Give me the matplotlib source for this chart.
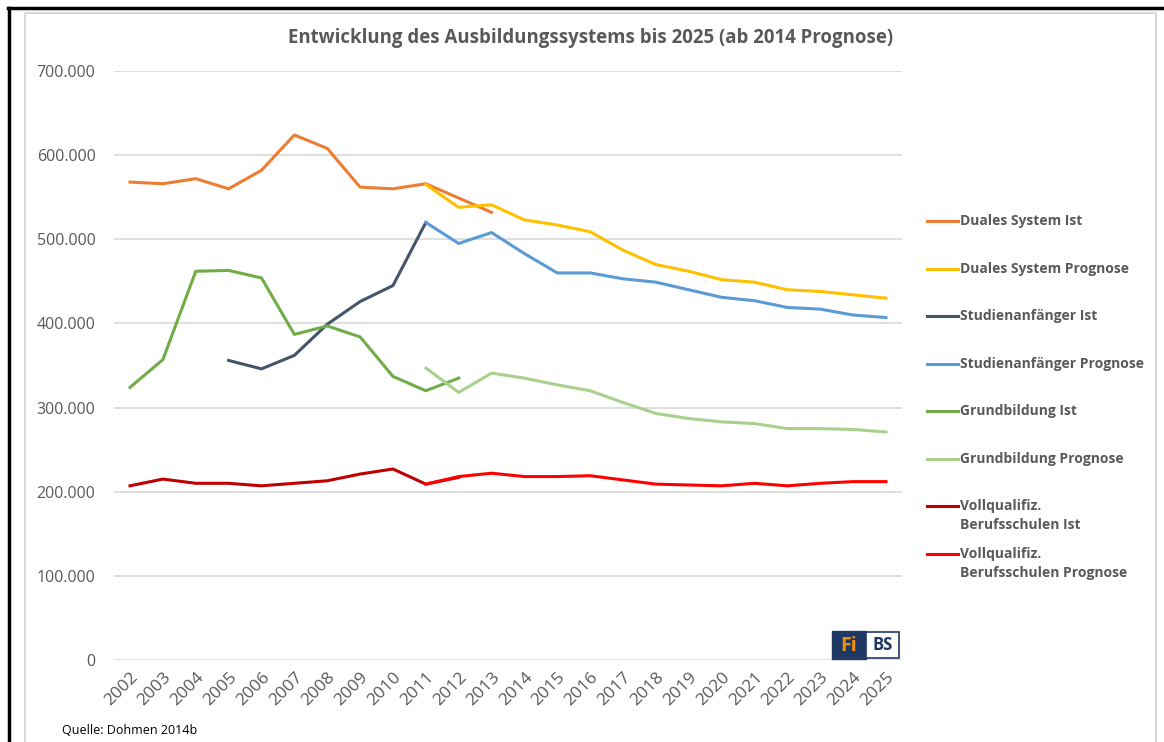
import matplotlib
matplotlib.use("Agg")
import matplotlib.pyplot as plt
from matplotlib.patches import Rectangle
from matplotlib.lines import Line2D
import numpy as np

plt.rcParams['font.family'] = ['Open Sans', 'DejaVu Sans']

# data
years_all = list(range(2002, 2026))

duales_ist_years = list(range(2002, 2014))
duales_ist = [568000, 566000, 572000, 560000, 582000, 624000, 608000, 562000, 560000, 566000, 549000, 532000]

duales_prog_years = list(range(2011, 2026))
duales_prog = [565000, 538000, 541000, 523000, 517000, 509000, 487000, 470000, 462000, 452000, 449000, 440000, 438000, 434000, 430000]

stud_ist_years = list(range(2005, 2012))
stud_ist = [356000, 346000, 362000, 399000, 426000, 445000, 520000]

stud_prog_years = list(range(2011, 2026))
stud_prog = [520000, 495000, 508000, 483000, 460000, 460000, 453000, 449000, 440000, 431000, 427000, 419000, 417000, 410000, 407000]

grund_ist_years = list(range(2002, 2013))
grund_ist = [324000, 357000, 462000, 463000, 454000, 387000, 397000, 384000, 337000, 320000, 335000]

grund_prog_years = list(range(2011, 2026))
grund_prog = [347000, 318000, 341000, 335000, 327000, 320000, 306000, 293000, 287000, 283000, 281000, 275000, 275000, 274000, 271000]

voll_ist_years = list(range(2002, 2013))
voll_ist = [207000, 215000, 210000, 210000, 207000, 210000, 213000, 221000, 227000, 209000, 217000]

voll_prog_years = list(range(2011, 2026))
voll_prog = [209000, 218000, 222000, 218000, 218000, 219000, 214000, 209000, 208000, 207000, 210000, 207000, 210000, 212000, 212000]

series = [
    (duales_ist_years, duales_ist, "Duales System Ist", "#ed7d31"),
    (duales_prog_years, duales_prog, "Duales System Prognose", "#ffc000"),
    (stud_ist_years, stud_ist, "Studienanfänger Ist", "#44546a"),
    (stud_prog_years, stud_prog, "Studienanfänger Prognose", "#5b9bd5"),
    (grund_ist_years, grund_ist, "Grundbildung Ist", "#70ad47"),
    (grund_prog_years, grund_prog, "Grundbildung Prognose", "#a9d18e"),
    (voll_ist_years, voll_ist, "Vollqualifiz.\nBerufsschulen Ist", "#c00000"),
    (voll_prog_years, voll_prog, "Vollqualifiz.\nBerufsschulen Prognose", "#ff0000"),
]

yticks = [0, 100000, 200000, 300000, 400000, 500000, 600000, 700000]
ytick_labels = ["0", "100.000", "200.000", "300.000", "400.000", "500.000", "600.000", "700.000"]

W, H = 1164, 742
fig = plt.figure(figsize=(W / 100, H / 100), dpi=100)
fig.patch.set_facecolor("white")

ax = fig.add_axes([113.6 / W, 1 - 660 / H, (902.4 - 113.6) / W, (660 - 71) / H])

for xs, ys, label, col in series:
    ax.plot(xs, ys, color=col, lw=2.2, solid_joinstyle="round")

ax.set_xlim(2001.5, 2025.5)
ax.set_ylim(0, 700000)
ax.set_yticks(yticks)
ax.set_yticklabels(ytick_labels)
ax.set_xticks(years_all)
ax.set_xticklabels([str(y) for y in years_all], rotation=45, ha="right", rotation_mode="anchor")
ax.grid(axis="y", color="#d9d9d9", lw=1.2)
ax.set_axisbelow(True)
for s in ax.spines.values():
    s.set_visible(False)
ax.tick_params(length=0, colors="#595959")
ax.tick_params(axis="y", pad=13, labelsize=11.5)
ax.tick_params(axis="x", pad=7, labelsize=12.5)

fig.text(591 / W, 1 - 38 / H, "Entwicklung des Ausbildungssystems bis 2025 (ab 2014 Prognose)",
         ha="center", va="center", fontsize=13.4, fontweight="bold", color="#595959")

# legend, drawn by hand so the spacing follows the reference
leg_y = [221, 269, 316, 364, 411, 459, 506, 554]
for (xs, ys, label, col), yy in zip(series, leg_y):
    fig.add_artist(Line2D([927 / W, 958 / W], [1 - yy / H, 1 - yy / H], transform=fig.transFigure,
                          color=col, lw=2.2))
    for k, part in enumerate(label.split("\n")):
        fig.text(960 / W, 1 - (yy + 19 * k) / H, part, ha="left", va="center", fontsize=10,
                 fontweight="bold", color="#595959")

fig.text(62 / W, 1 - 731 / H, "Quelle: Dohmen 2014b", ha="left", va="center", fontsize=9, color="black")

# logo
fig.add_artist(Rectangle((832 / W, 1 - 659 / H), 34 / W, 28 / H, transform=fig.transFigure,
                         facecolor="#1f3864", edgecolor="#1f3864"))
fig.add_artist(Rectangle((866 / W, 1 - 658 / H), 33 / W, 26 / H, transform=fig.transFigure,
                         facecolor="white", edgecolor="#1f3864", lw=1.2))
fig.text(849 / W, 1 - 646 / H, "Fi", ha="center", va="center", fontsize=14, fontweight="bold", color="#f39200")
fig.text(883 / W, 1 - 645 / H, "BS", ha="center", va="center", fontsize=12, fontweight="bold", color="#1f3864")

# frame
fig.add_artist(Rectangle((25 / W, -0.1), (1156 - 25) / W, 1.1 - 12.5 / H, transform=fig.transFigure,
                         facecolor="none", edgecolor="#d9d9d9", lw=1.5))
fig.add_artist(Line2D([9 / W, 9 / W], [0, 1 - 8 / H], transform=fig.transFigure, color="black", lw=2.5))
fig.add_artist(Line2D([8 / W, 1], [1 - 8 / H, 1 - 8 / H], transform=fig.transFigure, color="black", lw=2.5))

fig.savefig("out.png", dpi=100)
